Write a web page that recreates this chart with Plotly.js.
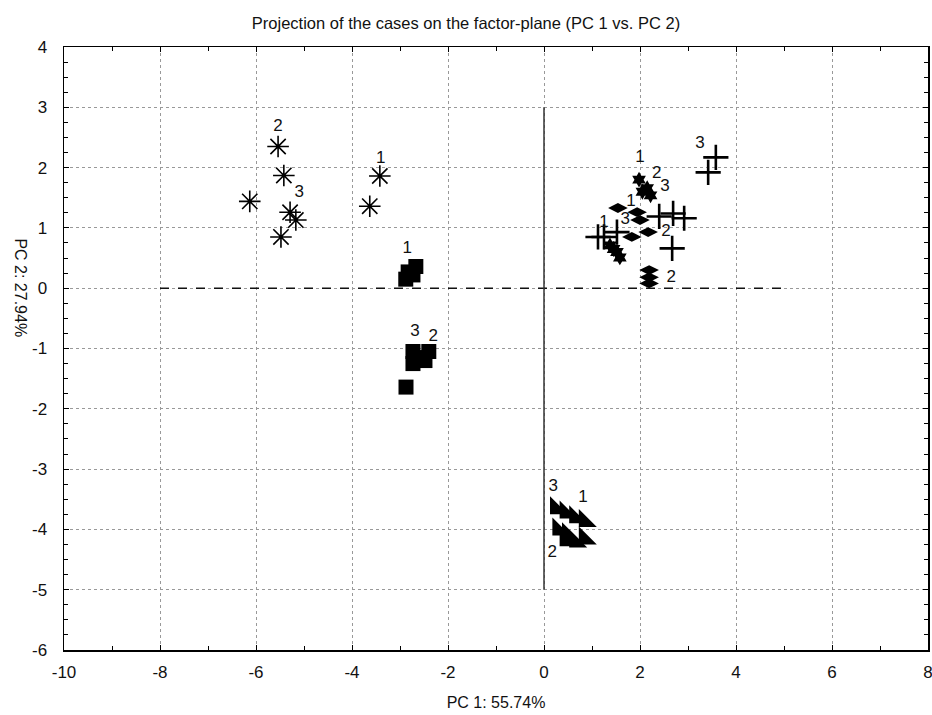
<!DOCTYPE html>
<html>
<head>
<meta charset="utf-8">
<script src="https://cdn.plot.ly/plotly-3.0.1.min.js"></script>
<style>html,body{margin:0;padding:0;background:#fff;}#chart{width:932px;height:715px;}</style>
</head>
<body>
<div id="chart"></div>
<script>
// Series data (PC1, PC2)
const starX = [-5.54, -5.42, -6.13, -5.29, -5.17, -5.48, -3.42, -3.63];
const starY = [2.35, 1.87, 1.44, 1.26, 1.13, 0.85, 1.86, 1.36];

const squareX = [-2.88, -2.83, -2.73, -2.67, -2.73, -2.73, -2.58, -2.40, -2.48, -2.875];
const squareY = [0.15, 0.27, 0.22, 0.36, -1.05, -1.25, -1.15, -1.05, -1.20, -1.64];

const triX = [0.25, 0.45, 0.65, 0.85, 0.30, 0.50, 0.65, 0.85, 0.45];
const triY = [-3.65, -3.72, -3.80, -3.86, -4.00, -4.08, -4.20, -4.15, -4.18];

const plusX = [3.58, 3.42, 2.40, 2.69, 2.92, 2.67, 1.125, 1.25, 1.52];
const plusY = [2.17, 1.92, 1.19, 1.24, 1.16, 0.66, 0.85, 0.85, 0.93];

const lensX = [1.54, 1.94, 2.00, 2.17, 1.83, 2.19, 2.19, 2.19];
const lensY = [1.33, 1.26, 1.13, 0.93, 0.85, 0.30, 0.18, 0.08];

const clubX = [1.98, 2.15, 2.22, 2.05, 1.375, 1.52, 1.58, 1.45];
const clubY = [1.80, 1.66, 1.54, 1.60, 0.71, 0.60, 0.51, 0.65];

// Point labels
const labelX = [-5.54, -5.10, -3.40, -2.85, -2.69, -2.31, 0.19, 0.81, 0.17, 3.25, 2.00, 2.35, 2.52, 1.81, 1.25, 1.69, 2.54, 2.65];
const labelY = [2.67, 1.58, 2.14, 0.66, -0.73, -0.81, -3.30, -3.47, -4.38, 2.40, 2.16, 1.89, 1.69, 1.43, 1.09, 1.13, 0.93, 0.18];
const labelText = ['2', '3', '1', '1', '3', '2', '3', '1', '2', '3', '1', '2', '3', '1', '1', '3', '2', '2'];

// Axis ticks
const xTicks = [-10, -8, -6, -4, -2, 0, 2, 4, 6, 8];
const yTicks = [-6, -5, -4, -3, -2, -1, 0, 1, 2, 3, 4];

const traces = [
  {x: starX, y: starY, mode: 'markers', type: 'scatter',
   marker: {symbol: 'asterisk-open', size: 18, color: '#000', line: {color: '#000', width: 1.6}}},
  {x: squareX, y: squareY, mode: 'markers', type: 'scatter',
   marker: {symbol: 'square', size: 15, color: '#000'}},
  {x: triX, y: triY, mode: 'markers', type: 'scatter',
   marker: {symbol: 'triangle-sw', size: 20, color: '#000'}},
  {x: plusX, y: plusY, mode: 'markers', type: 'scatter',
   marker: {symbol: 'cross-thin-open', size: 18, color: '#000', line: {color: '#000', width: 2.6}}},
  {x: lensX, y: lensY, mode: 'markers', type: 'scatter',
   marker: {symbol: 'diamond-wide', size: 14, color: '#000'}},
  {x: clubX, y: clubY, mode: 'markers', type: 'scatter',
   marker: {symbol: 'hexagram', size: 12, color: '#000'}},
  {x: labelX, y: labelY, mode: 'text', type: 'scatter', text: labelText,
   textfont: {family: 'Liberation Sans, Arial, sans-serif', size: 17, color: '#111'}}
];

const axisFont = {family: 'Liberation Sans, Arial, sans-serif', size: 17, color: '#111'};

const layout = {
  width: 932, height: 715,
  margin: {l: 64, r: 4, t: 47, b: 65},
  paper_bgcolor: '#fff', plot_bgcolor: '#fff',
  showlegend: false,
  title: {text: 'Projection of the cases on the factor-plane (PC 1 vs. PC 2)',
          font: {family: 'Liberation Sans, Arial, sans-serif', size: 16.5, color: '#111'},
          x: 0.5, xanchor: 'center', y: 0.968, yanchor: 'middle'},
  xaxis: {
    range: [-10, 8], tickvals: xTicks, ticktext: xTicks.map(String),
    showgrid: true, gridcolor: '#999', griddash: 'dot', gridwidth: 1,
    zeroline: false, showline: true, linecolor: '#000', linewidth: 1.5, mirror: 'allticks',
    ticks: 'inside', ticklen: 5, tickcolor: '#000',
    minor: {dtick: 1, tick0: 0, ticks: 'inside', ticklen: 4, tickcolor: '#000', showgrid: false},
    tickfont: axisFont, ticklabelstandoff: 6, ticklabeloverflow: 'allow',
    title: {text: 'PC 1: 55.74%', font: {family: 'Liberation Sans, Arial, sans-serif', size: 16, color: '#111'}, standoff: 16}
  },
  yaxis: {
    range: [-6, 4], tickvals: yTicks, ticktext: yTicks.map(String),
    showgrid: true, gridcolor: '#999', griddash: 'dot', gridwidth: 1,
    zeroline: false, showline: true, linecolor: '#000', linewidth: 1.5, mirror: 'allticks',
    ticks: 'inside', ticklen: 5, tickcolor: '#000',
    minor: {dtick: 0.25, tick0: 0, ticks: 'inside', ticklen: 4, tickcolor: '#000', showgrid: false},
    tickfont: axisFont, ticklabelstandoff: 12
  },
  shapes: [
    {type: 'line', xref: 'x', yref: 'y', x0: -8, x1: 4.95, y0: 0, y1: 0,
     line: {color: '#111', width: 1.5, dash: 'dash'}},
    {type: 'line', xref: 'x', yref: 'y', x0: 0, x1: 0, y0: 3, y1: -5,
     line: {color: '#333', width: 1.5}}
  ],
  annotations: [
    {text: 'PC 2: 27.94%', xref: 'paper', yref: 'paper', x: -0.05, y: 0.6,
     xanchor: 'center', yanchor: 'middle', textangle: 90, showarrow: false,
     font: {family: 'Liberation Sans, Arial, sans-serif', size: 16, color: '#111'}}
  ]
};

Plotly.newPlot('chart', traces, layout, {displayModeBar: false, staticPlot: true});
</script>
</body>
</html>
